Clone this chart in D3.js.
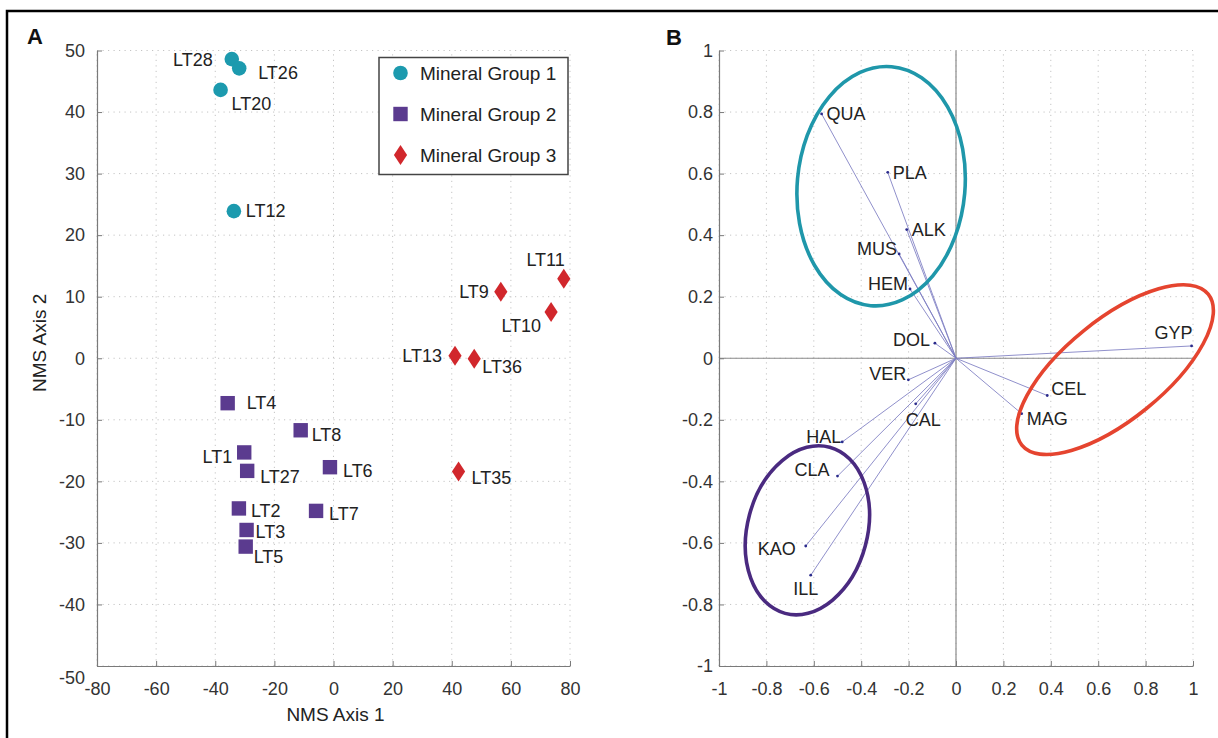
<!DOCTYPE html>
<html>
<head>
<meta charset="utf-8">
<script src="https://cdn.jsdelivr.net/npm/d3@7"></script>
<style>
  html, body { margin: 0; padding: 0; background: #fff; }
  svg { display: block; font-family: "Liberation Sans", Arial, Helvetica, sans-serif; }
</style>
</head>
<body>
<svg id="fig" width="1218" height="738"></svg>
<script>
// ---------- Panel A: NMS ordination of samples ----------
const group1Names = ["LT28", "LT26", "LT20", "LT12"];
const group1X = [-34.4, -31.9, -38.2, -33.7];
const group1Y = [48.6, 47.1, 43.6, 23.9];

const group2Names = ["LT4", "LT8", "LT1", "LT27", "LT6", "LT2", "LT7", "LT3", "LT5"];
const group2X = [-35.8, -11.1, -30.2, -29.2, -1.2, -32.0, -5.9, -29.4, -29.7];
const group2Y = [-7.3, -11.7, -15.3, -18.3, -17.7, -24.4, -24.8, -27.9, -30.6];

const group3Names = ["LT11", "LT9", "LT10", "LT13", "LT36", "LT35"];
const group3X = [77.9, 56.6, 73.6, 41.1, 47.6, 42.3];
const group3Y = [12.9, 10.8, 7.5, 0.4, -0.1, -18.4];

const legendLabels = ["Mineral Group 1", "Mineral Group 2", "Mineral Group 3"];
const axisATicksX = [-80, -60, -40, -20, 0, 20, 40, 60, 80];
const axisATicksY = [-50, -40, -30, -20, -10, 0, 10, 20, 30, 40, 50];

// ---------- Panel B: mineral vectors ----------
const mineralNames = ["QUA", "PLA", "ALK", "MUS", "HEM", "DOL", "VER", "CAL",
                      "HAL", "CLA", "KAO", "ILL", "GYP", "CEL", "MAG"];
const mineralX = [-0.567, -0.288, -0.208, -0.240, -0.194, -0.089, -0.201, -0.170,
                  -0.480, -0.500, -0.634, -0.613, 0.994, 0.385, 0.277];
const mineralY = [0.794, 0.604, 0.418, 0.339, 0.225, 0.049, -0.070, -0.148,
                  -0.272, -0.383, -0.610, -0.705, 0.040, -0.121, -0.180];

// group outlines: centre, semi-axes (in x-axis units) and tilt in degrees
const outlineCx = [-0.316, -0.627, 0.671];
const outlineCy = [0.559, -0.559, -0.037];
const outlineRx = [0.354, 0.253, 0.506];
const outlineRy = [0.506, 0.363, 0.211];
const outlineTilt = [5, 15, -39];

const axisBTicks = [-1, -0.8, -0.6, -0.4, -0.2, 0, 0.2, 0.4, 0.6, 0.8, 1];

// ---------- styling ----------
const groupColors = ["#1c9aae", "#5b3b8f", "#d1272c"];
const outlineColors = ["#1f97aa", "#4a2a80", "#e5442f"];
const gridColor = "#c4c4c4";
const axisColor = "#7a7a7a";
const textColor = "#222";

// label placement: [anchor, dx, dy] in pixels from the marker centre
const labelPlaceA = {
  LT28: ["end", -19, 1], LT26: ["start", 19, 4], LT20: ["start", 11, 14], LT12: ["start", 12, 0],
  LT4: ["start", 19, 0], LT8: ["start", 11, 4], LT1: ["end", -12, 4], LT27: ["start", 13, 6],
  LT6: ["start", 13, 3], LT2: ["start", 12, 2], LT7: ["start", 13, 3], LT3: ["start", 9, 2],
  LT5: ["start", 8, 10], LT35: ["start", 13, 6],
  LT11: ["end", 1, -19], LT9: ["end", -12, 0], LT10: ["end", -10, 14], LT13: ["end", -13, 0],
  LT36: ["start", 8, 8]
};
const labelPlaceB = {
  QUA: ["start", 5, 0], PLA: ["start", 5, 0], ALK: ["start", 5, 0], MUS: ["end", -2, -5],
  HEM: ["end", -2, -5], DOL: ["end", -5, -3], VER: ["end", -2, -6], CAL: ["start", -10, 16],
  HAL: ["end", -1, -5], CLA: ["end", -8, -6], KAO: ["end", -10, 3], ILL: ["middle", -5, 13],
  GYP: ["end", 1, -13], CEL: ["start", 4, -7], MAG: ["start", 5, 5]
};

const svg = d3.select("#fig");

// outer figure frame (left and top rules)
svg.append("path")
  .attr("d", "M7,740 L7,11 L1220,11")
  .attr("fill", "none").attr("stroke", "#000").attr("stroke-width", 2.5);

// ---------- helpers ----------
function drawGrid(g, x, y, xt, yt) {
  const [x0, x1] = x.range(), [y0, y1] = y.range();
  g.append("g").selectAll("line").data(xt).join("line")
    .attr("x1", d => x(d)).attr("x2", d => x(d)).attr("y1", y0).attr("y2", y1)
    .attr("stroke", gridColor).attr("stroke-dasharray", "1.2,4.3");
  g.append("g").selectAll("line").data(yt).join("line")
    .attr("y1", d => y(d)).attr("y2", d => y(d)).attr("x1", x0).attr("x2", x1)
    .attr("stroke", gridColor).attr("stroke-dasharray", "1.2,4.3");
}

function styleAxis(sel, size) {
  sel.attr("font-family", null).attr("font-size", null);
  sel.select(".domain").attr("stroke", axisColor).attr("stroke-width", 1.2);
  sel.selectAll(".tick line").attr("stroke", axisColor);
  sel.selectAll(".tick text").attr("fill", "#333").style("font-size", size + "px");
}

// ---------- Panel A ----------
const xA = d3.scaleLinear().domain([-80, 80]).range([97, 570]);
const yA = d3.scaleLinear().domain([-50, 50]).range([666, 50.5]);
const gA = svg.append("g");

drawGrid(gA, xA, yA, axisATicksX, axisATicksY);

gA.append("g").attr("transform", `translate(0,${yA(-50)})`)
  .call(d3.axisBottom(xA).tickValues(axisATicksX).tickFormat(d => String(d))
    .tickSize(-5).tickSizeOuter(0).tickPadding(16))
  .call(s => styleAxis(s, 18));

const yAxisA = gA.append("g").attr("transform", `translate(${xA(-80)},0)`)
  .call(d3.axisLeft(yA).tickValues(axisATicksY).tickFormat(d => String(d))
    .tickSize(-5).tickSizeOuter(0).tickPadding(12))
  .call(s => styleAxis(s, 18));
// the lowest label sits below the corner so it clears the x labels
yAxisA.selectAll(".tick text").filter(d => d === -50).attr("dy", "0.95em");

// axis titles
gA.append("text").attr("x", (xA(-80) + xA(80)) / 2 + 2).attr("y", 721)
  .attr("text-anchor", "middle").attr("fill", textColor).style("font-size", "19px")
  .text("NMS Axis 1");
gA.append("text").attr("transform", `translate(46,${yA(2.5)}) rotate(-90)`)
  .attr("text-anchor", "middle").attr("fill", textColor).style("font-size", "19px")
  .text("NMS Axis 2");

// panel letter
svg.append("text").attr("x", 27).attr("y", 44).attr("fill", "#111")
  .style("font-size", "22px").style("font-weight", "bold").text("A");

// marker drawers
const markerShapes = [
  (sel) => sel.append("circle").attr("r", 7.3),
  (sel) => sel.append("rect").attr("x", -7.2).attr("y", -7.2).attr("width", 14.4).attr("height", 14.4),
  (sel) => sel.append("path").attr("d", "M0,-10 L6.6,0 L0,10 L-6.6,0 Z")
];

const groupsA = [
  { names: group1Names, xs: group1X, ys: group1Y },
  { names: group2Names, xs: group2X, ys: group2Y },
  { names: group3Names, xs: group3X, ys: group3Y }
];

groupsA.forEach((grp, gi) => {
  const pts = grp.names.map((n, i) => ({ name: n, x: grp.xs[i], y: grp.ys[i] }));
  const nodes = gA.append("g").selectAll("g").data(pts).join("g")
    .attr("transform", d => `translate(${xA(d.x)},${yA(d.y)})`);
  nodes.each(function () { markerShapes[gi](d3.select(this)); });
  nodes.selectAll("circle, rect, path").attr("fill", groupColors[gi]);
  nodes.append("text")
    .attr("text-anchor", d => labelPlaceA[d.name][0])
    .attr("x", d => labelPlaceA[d.name][1])
    .attr("y", d => labelPlaceA[d.name][2])
    .attr("dy", "0.35em")
    .attr("fill", textColor).style("font-size", "18px")
    .text(d => d.name);
});

// legend
const legend = gA.append("g");
legend.append("rect").attr("x", 379).attr("y", 57.5).attr("width", 189).attr("height", 117)
  .attr("fill", "#fff").attr("stroke", "#444").attr("stroke-width", 1.5);
legendLabels.forEach((lab, i) => {
  const row = legend.append("g").attr("transform", `translate(400.5,${73 + i * 41})`);
  markerShapes[i](row);
  row.selectAll("circle, rect, path").attr("fill", groupColors[i]);
  row.append("text").attr("x", 19.5).attr("dy", "0.35em").attr("fill", textColor)
    .style("font-size", "19px").text(lab);
});

// ---------- Panel B ----------
const xB = d3.scaleLinear().domain([-1, 1]).range([719, 1193]);
const yB = d3.scaleLinear().domain([-1, 1]).range([666, 50.5]);
const gB = svg.append("g");

drawGrid(gB, xB, yB, axisBTicks, axisBTicks);

// zero lines
gB.append("line").attr("x1", xB(0)).attr("x2", xB(0)).attr("y1", yB(-1)).attr("y2", yB(1))
  .attr("stroke", "#8a8a8a").attr("stroke-width", 1.2);
gB.append("line").attr("x1", xB(-1)).attr("x2", xB(1)).attr("y1", yB(0)).attr("y2", yB(0))
  .attr("stroke", "#8a8a8a").attr("stroke-width", 1.2);

gB.append("g").attr("transform", `translate(0,${yB(-1)})`)
  .call(d3.axisBottom(xB).tickValues(axisBTicks).tickFormat(d => String(d))
    .tickSize(-5).tickSizeOuter(0).tickPadding(16))
  .call(s => styleAxis(s, 18));

gB.append("g").attr("transform", `translate(${xB(-1)},0)`)
  .call(d3.axisLeft(yB).tickValues(axisBTicks).tickFormat(d => String(d))
    .tickSize(-5).tickSizeOuter(0).tickPadding(6))
  .call(s => styleAxis(s, 18));

svg.append("text").attr("x", 666).attr("y", 45).attr("fill", "#111")
  .style("font-size", "22px").style("font-weight", "bold").text("B");

// vectors from the origin
const vecs = mineralNames.map((n, i) => ({ name: n, x: mineralX[i], y: mineralY[i] }));
gB.append("g").selectAll("line").data(vecs).join("line")
  .attr("x1", xB(0)).attr("y1", yB(0))
  .attr("x2", d => xB(d.x)).attr("y2", d => yB(d.y))
  .attr("stroke", "#7d7dc2").attr("stroke-width", 1).attr("stroke-opacity", 0.85);
gB.append("g").selectAll("circle").data(vecs).join("circle")
  .attr("cx", d => xB(d.x)).attr("cy", d => yB(d.y)).attr("r", 1.4)
  .attr("fill", "#2b2b8c");
gB.append("g").selectAll("text").data(vecs).join("text")
  .attr("x", d => xB(d.x) + labelPlaceB[d.name][1])
  .attr("y", d => yB(d.y) + labelPlaceB[d.name][2])
  .attr("text-anchor", d => labelPlaceB[d.name][0])
  .attr("dy", "0.35em").attr("fill", textColor).style("font-size", "18px")
  .text(d => d.name);

// group outlines
const unitPx = xB(1) - xB(0);
const outlines = outlineCx.map((cx, i) => ({
  cx, cy: outlineCy[i], rx: outlineRx[i], ry: outlineRy[i], tilt: outlineTilt[i], color: outlineColors[i]
}));
gB.append("g").selectAll("ellipse").data(outlines).join("ellipse")
  .attr("transform", d => `translate(${xB(d.cx)},${yB(d.cy)}) rotate(${d.tilt})`)
  .attr("rx", d => d.rx * unitPx).attr("ry", d => d.ry * unitPx)
  .attr("fill", "none").attr("stroke", d => d.color).attr("stroke-width", 3.6);
</script>
</body>
</html>
